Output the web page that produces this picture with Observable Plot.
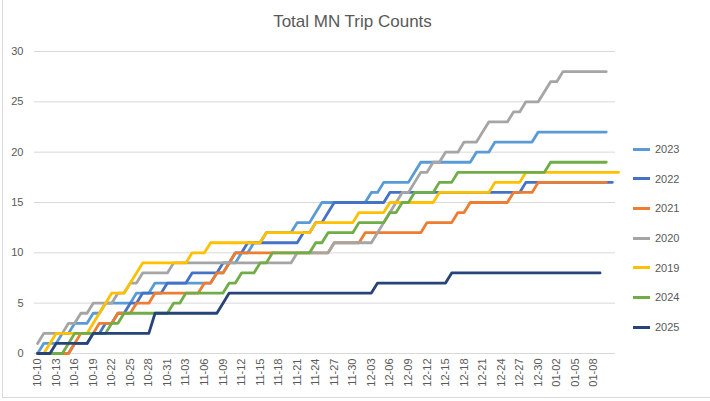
<!DOCTYPE html>
<html><head><meta charset="utf-8">
<script src="https://cdn.jsdelivr.net/npm/d3@7"></script>
<script src="https://cdn.jsdelivr.net/npm/@observablehq/plot@0.6"></script>
<style>
html,body{margin:0;padding:0;background:#fff;}
#chart{position:relative;width:710px;height:401px;overflow:hidden;font-family:"Liberation Sans",Arial,sans-serif;color:#595959;background:#fff;}
#title{position:absolute;left:0;width:705px;top:12px;line-height:20px;text-align:center;font-size:17px;color:#595959;}
.leg{position:absolute;left:633px;height:14px;font-size:11px;line-height:14px;display:flex;align-items:center;color:#595959;}
.leg .sw{display:inline-block;width:17px;height:3px;margin-right:5px;}
.edge{position:absolute;background:#d9d9d9;}
</style></head><body>
<div id="chart">
  <div class="edge" style="left:2px;top:0;width:1px;height:398px;"></div>
  <div class="edge" style="left:2px;top:397px;width:708px;height:1px;"></div>
  <div id="title">Total MN Trip Counts</div>
</div>
<script>
// Categories (daily, Oct 10 – Jan 11)
const categories = ("10-10 10-11 10-12 10-13 10-14 10-15 10-16 10-17 10-18 10-19 10-20 10-21 10-22 10-23 10-24 10-25 10-26 10-27 10-28 10-29 10-30 10-31 " +
  "11-01 11-02 11-03 11-04 11-05 11-06 11-07 11-08 11-09 11-10 11-11 11-12 11-13 11-14 11-15 11-16 11-17 11-18 11-19 11-20 11-21 11-22 11-23 11-24 11-25 11-26 11-27 11-28 11-29 11-30 " +
  "12-01 12-02 12-03 12-04 12-05 12-06 12-07 12-08 12-09 12-10 12-11 12-12 12-13 12-14 12-15 12-16 12-17 12-18 12-19 12-20 12-21 12-22 12-23 12-24 12-25 12-26 12-27 12-28 12-29 12-30 12-31 " +
  "01-01 01-02 01-03 01-04 01-05 01-06 01-07 01-08 01-09 01-10 01-11").split(" ");

const xTickLabels = ["10-10","10-13","10-16","10-19","10-22","10-25","10-28","10-31","11-03","11-06","11-09","11-12","11-15","11-18","11-21","11-24","11-27","11-30","12-03","12-06","12-09","12-12","12-15","12-18","12-21","12-24","12-27","12-30","01-02","01-05","01-08"];
const yTicks = [0,5,10,15,20,25,30];

const seriesNames  = ["2023","2022","2021","2020","2019","2024","2025"];
const seriesColors = ["#5B9BD5","#4472C4","#ED7D31","#A5A5A5","#FFC000","#70AD47","#264478"];

const s2023 = [0,1,1,1,2,2,3,3,3,4,4,5,5,5,5,5,6,6,6,7,7,7,7,7,7,7,7,7,7,8,8,9,9,10,10,11,11,12,12,12,12,12,13,13,13,14,15,15,15,15,15,15,15,15,16,16,17,17,17,17,17,18,19,19,19,19,19,19,19,19,19,20,20,20,21,21,21,21,21,21,21,22,22,22,22,22,22,22,22,22,22,22,22];
const s2022 = [0,0,0,0,0,0,1,1,1,2,2,3,3,4,4,5,5,6,6,6,6,7,7,7,7,8,8,8,8,8,9,9,10,10,11,11,11,11,11,11,11,11,11,12,12,13,13,14,15,15,15,15,15,15,15,15,15,16,16,16,16,16,16,16,16,16,16,16,16,16,16,16,16,16,16,16,16,16,16,17,17,17,17,17,17,17,17,17,17,17,17,17,17,17];
const s2021 = [0,0,0,0,0,0,1,2,2,2,3,3,3,4,4,4,5,5,5,6,6,6,6,6,6,6,6,7,7,8,8,9,10,10,10,10,10,10,10,10,10,10,10,10,10,10,10,10,11,11,11,11,11,12,12,12,12,12,12,12,12,12,12,13,13,13,13,13,14,14,15,15,15,15,15,15,15,16,16,16,16,17,17,17,17,17,17,17,17,17,17,17,17];
const s2020 = [1,2,2,2,2,3,3,4,4,5,5,5,5,6,6,7,7,8,8,8,8,8,9,9,9,9,9,9,9,9,9,9,9,9,9,9,9,9,9,9,9,9,10,10,10,10,10,10,11,11,11,11,11,11,11,12,13,14,15,16,16,17,18,18,19,19,20,20,20,21,21,21,22,23,23,23,23,24,24,25,25,25,26,27,27,28,28,28,28,28,28,28,28];
const s2019 = [0,0,1,2,2,2,2,2,2,3,4,5,6,6,6,7,8,9,9,9,9,9,9,9,9,10,10,10,11,11,11,11,11,11,11,11,11,12,12,12,12,12,12,12,12,13,13,13,13,13,13,13,14,14,14,14,14,15,15,15,15,15,15,15,15,16,16,16,16,16,16,16,16,16,17,17,17,17,17,18,18,18,18,18,18,18,18,18,18,18,18,18,18,18,18];
const s2024 = [0,0,0,0,0,1,2,2,2,2,2,2,3,3,4,4,4,4,4,4,4,4,5,5,6,6,6,6,6,6,6,7,7,8,8,8,9,9,10,10,10,10,10,10,10,11,11,12,12,12,12,12,13,13,13,13,13,14,14,15,15,16,16,16,16,17,17,17,18,18,18,18,18,18,18,18,18,18,18,18,18,18,18,19,19,19,19,19,19,19,19,19,19];
const s2025 = [0,0,0,1,1,1,1,1,1,2,2,2,2,2,2,2,2,2,2,4,4,4,4,4,4,4,4,4,4,4,5,6,6,6,6,6,6,6,6,6,6,6,6,6,6,6,6,6,6,6,6,6,6,6,6,7,7,7,7,7,7,7,7,7,7,7,7,8,8,8,8,8,8,8,8,8,8,8,8,8,8,8,8,8,8,8,8,8,8,8,8,8];

const seriesValues = [s2023,s2022,s2021,s2020,s2019,s2024,s2025];

// long table: x is the category's position in the categories list
const rows = seriesNames.flatMap((name,k) =>
  seriesValues[k].map((v,i) => ({idx: i, date: categories[i], value: v, series: name})));

const tickIdx = xTickLabels.map(l => categories.indexOf(l));

const svg = Plot.plot({
  width: 710,
  height: 401,
  marginLeft: 34,
  marginRight: 95,
  marginTop: 51,
  marginBottom: 48,
  style: {fontFamily: "'Liberation Sans', Arial, sans-serif", fontSize: "11px", color: "#595959", background: "transparent", overflow: "visible"},
  x: {type: "linear", domain: [-0.5, categories.length - 0.5]},
  y: {domain: [0, 30]},
  color: {domain: seriesNames, range: seriesColors},
  marks: [
    Plot.ruleY(yTicks, {stroke: "#d9d9d9", strokeWidth: 1}),
    Plot.axisY({ticks: yTicks, tickSize: 0, tickPadding: 11, label: null, fill: "#595959"}),
    Plot.axisX({ticks: tickIdx, tickFormat: i => categories[i], tickSize: 0, tickPadding: 5, tickRotate: -90, label: null, fill: "#595959"}),
    Plot.line(rows, {x: "idx", y: "value", z: "series", stroke: "series", strokeWidth: 2.8, strokeLinejoin: "round", strokeLinecap: "round"})
  ]
});
svg.style.position = "absolute";
svg.style.left = "0px";
svg.style.top = "0px";
const chart = document.getElementById("chart");
chart.appendChild(svg);

// legend
const legTop = [149, 178.5, 208, 238, 267.5, 297, 327];
seriesNames.forEach((name, k) => {
  const d = document.createElement("div");
  d.className = "leg";
  d.style.top = (legTop[k] - 7) + "px";
  d.innerHTML = `<span class="sw" style="background:${seriesColors[k]}"></span><span>${name}</span>`;
  chart.appendChild(d);
});
chart.appendChild(document.getElementById("title"));
</script>
</body></html>
